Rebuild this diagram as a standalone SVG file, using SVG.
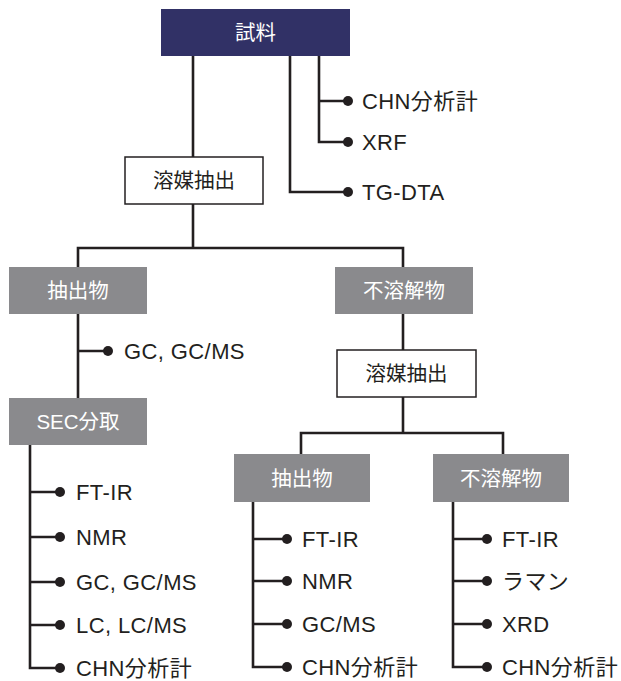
<svg xmlns="http://www.w3.org/2000/svg" width="621" height="681" viewBox="0 0 621 681">
<style>
.ln{fill:none;stroke:#231f20;stroke-width:2.6;stroke-linejoin:miter}
.dot{fill:#231f20}
.t{font-family:"Liberation Sans","Noto Sans CJK JP",sans-serif;font-size:22px;letter-spacing:0.4px;fill:#231f20}
.bt{font-family:"Liberation Sans","Noto Sans CJK JP",sans-serif;font-size:20.5px;text-anchor:middle}
.navy{fill:#313166}
.gray{fill:#8a8a8d}
.white{fill:#fff;stroke:#231f20;stroke-width:1.5}
</style>
<rect width="621" height="681" fill="#fff"/>
<g id="connectors">
<path class="ln" d="M193 56V157"/>
<path class="ln" d="M290 56V192H345"/>
<path class="ln" d="M319 56V142H345M319 101H345"/>
<path class="ln" d="M193 204V248M78 267V248H403V267"/>
<path class="ln" d="M78 314V398M78 351H105"/>
<path class="ln" d="M403 314V350"/>
<path class="ln" d="M403 397V433M301 454V433H503V454"/>
<path class="ln" d="M30 445V668H57M30 492H57M30 537H57M30 582H57M30 625H57"/>
<path class="ln" d="M253 502V667H284M253 539H284M253 581H284M253 624H284"/>
<path class="ln" d="M453 502V667H484M453 539H484M453 581H484M453 624H484"/>
<circle class="dot" cx="348" cy="101" r="5"/>
<circle class="dot" cx="348" cy="142" r="5"/>
<circle class="dot" cx="348" cy="192" r="5"/>
<circle class="dot" cx="108" cy="351" r="5"/>
<circle class="dot" cx="60" cy="492" r="5"/>
<circle class="dot" cx="60" cy="537" r="5"/>
<circle class="dot" cx="60" cy="582" r="5"/>
<circle class="dot" cx="60" cy="625" r="5"/>
<circle class="dot" cx="60" cy="668" r="5"/>
<circle class="dot" cx="287" cy="539" r="5"/>
<circle class="dot" cx="287" cy="581" r="5"/>
<circle class="dot" cx="287" cy="624" r="5"/>
<circle class="dot" cx="287" cy="667" r="5"/>
<circle class="dot" cx="487" cy="539" r="5"/>
<circle class="dot" cx="487" cy="581" r="5"/>
<circle class="dot" cx="487" cy="624" r="5"/>
<circle class="dot" cx="487" cy="667" r="5"/>
</g>
<g id="sample"><rect class="navy" x="161" y="9" width="189" height="47"/><text class="bt" x="255.5" y="40" fill="#fff">試料</text></g>
<g id="extract1"><rect class="white" x="125" y="157" width="138" height="47"/><text class="bt" x="194" y="188" fill="#231f20">溶媒抽出</text></g>
<g id="extractA"><rect class="gray" x="9" y="267" width="138" height="47"/><text class="bt" x="78" y="298" fill="#fff">抽出物</text></g>
<g id="insolA"><rect class="gray" x="335" y="267" width="138" height="47"/><text class="bt" x="404" y="298" fill="#fff">不溶解物</text></g>
<g id="sec"><rect class="gray" x="9" y="398" width="138" height="47"/><text class="bt" x="78" y="429" fill="#fff">SEC分取</text></g>
<g id="extract2"><rect class="white" x="337" y="350" width="139" height="47"/><text class="bt" x="406.5" y="381" fill="#231f20">溶媒抽出</text></g>
<g id="extractB"><rect class="gray" x="234" y="454" width="136" height="48"/><text class="bt" x="302" y="486" fill="#fff">抽出物</text></g>
<g id="insolB"><rect class="gray" x="433" y="454" width="136" height="48"/><text class="bt" x="501" y="486" fill="#fff">不溶解物</text></g>
<g id="labels">
<text class="t" x="362" y="109">CHN分析計</text>
<text class="t" x="362" y="150">XRF</text>
<text class="t" x="362" y="200">TG-DTA</text>
<text class="t" x="124" y="359">GC, GC/MS</text>
<text class="t" x="76" y="500">FT-IR</text>
<text class="t" x="76" y="545">NMR</text>
<text class="t" x="76" y="590">GC, GC/MS</text>
<text class="t" x="76" y="633">LC, LC/MS</text>
<text class="t" x="76" y="676">CHN分析計</text>
<text class="t" x="302" y="547">FT-IR</text>
<text class="t" x="302" y="589">NMR</text>
<text class="t" x="302" y="632">GC/MS</text>
<text class="t" x="302" y="675">CHN分析計</text>
<text class="t" x="502" y="547">FT-IR</text>
<text class="t" x="502" y="589">ラマン</text>
<text class="t" x="502" y="632">XRD</text>
<text class="t" x="502" y="675">CHN分析計</text>
</g>
</svg>
